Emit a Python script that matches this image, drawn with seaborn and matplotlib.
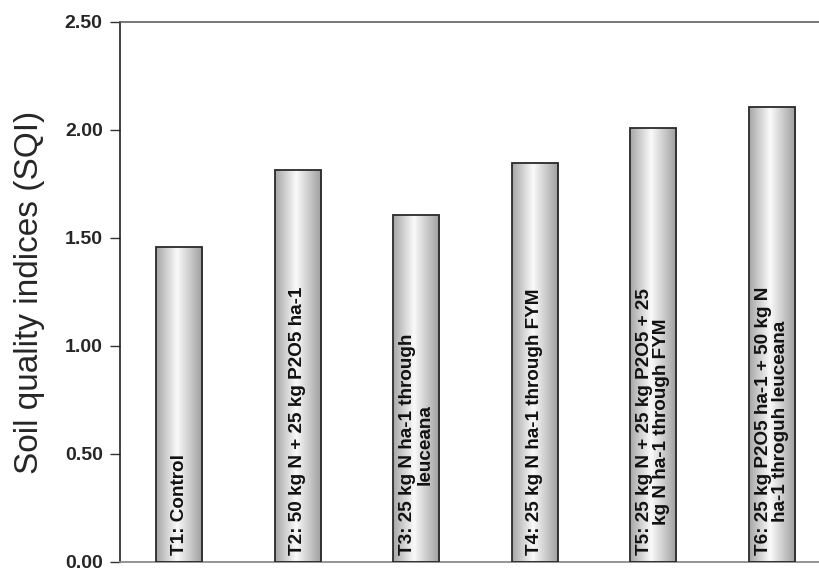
import numpy as np
import matplotlib.pyplot as plt
import seaborn as sns
from matplotlib.colors import LinearSegmentedColormap

treatments = [
    "T1: Control",
    "T2: 50 kg N + 25 kg P2O5 ha-1",
    "T3: 25 kg N ha-1 through\nleuceana",
    "T4: 25 kg N ha-1 through FYM",
    "T5: 25 kg N + 25 kg P2O5 + 25\nkg N ha-1 through FYM",
    "T6: 25 kg P2O5 ha-1 + 50 kg N\nha-1 throguh leuceana",
]
sqi = [1.46, 1.815, 1.605, 1.845, 2.01, 2.105]
yticks = [0.0, 0.5, 1.0, 1.5, 2.0, 2.5]

sns.set_theme(style='white')
plt.rcParams['font.family'] = ['Liberation Sans', 'DejaVu Sans']

fig = plt.figure(figsize=(8.2, 5.68), dpi=100)
ax = fig.add_axes([120 / 820, 6 / 568, 711 / 820, 540 / 568])

sns.barplot(x=treatments, y=sqi, color='#c0c0c0', width=0.39,
            edgecolor='#2a2a2a', linewidth=1.3, ax=ax)

# cylinder look: grey - white - grey gradient clipped to each bar
cyl = LinearSegmentedColormap.from_list(
    'cyl', [(0, '#a6a6a6'), (0.45, '#fafafa'), (1, '#9c9c9c')])
grad = np.linspace(0, 1, 256).reshape(1, -1)
for bar in ax.patches:
    x0, w, h = bar.get_x(), bar.get_width(), bar.get_height()
    im = ax.imshow(grad, cmap=cyl, extent=[x0, x0 + w, 0, h],
                   aspect='auto', zorder=2)
    im.set_clip_path(bar)
    bar.set_facecolor('none')
    bar.set_zorder(3)

# treatment labels inside the bars
for i, lab in enumerate(treatments):
    ax.text(i, 0.032, lab, rotation=90, ha='center', va='bottom',
            multialignment='center', fontsize=13.6, fontweight='bold',
            linespacing=1.0, color='#111111', zorder=4)

ax.set_xlim(-0.5, len(treatments) - 0.5)
ax.set_ylim(0, 2.5)
ax.set_xticks([])
ax.set_yticks(yticks)
ax.set_yticklabels([f'{v:.2f}' for v in yticks], fontsize=14,
                   fontweight='bold')
ax.tick_params(axis='y', left=True, length=7, width=1, pad=5.5,
               color='#333333')
ax.set_ylabel('Soil quality indices (SQI)', fontsize=24, labelpad=14)

for side in ['left', 'top', 'bottom']:
    ax.spines[side].set_visible(True)
ax.spines['right'].set_visible(False)
ax.spines['left'].set_color('#222222')
ax.spines['top'].set_color('#666666')
ax.spines['bottom'].set_color('#888888')
ax.spines['left'].set_linewidth(1.2)

fig.savefig('out.png', dpi=100)
